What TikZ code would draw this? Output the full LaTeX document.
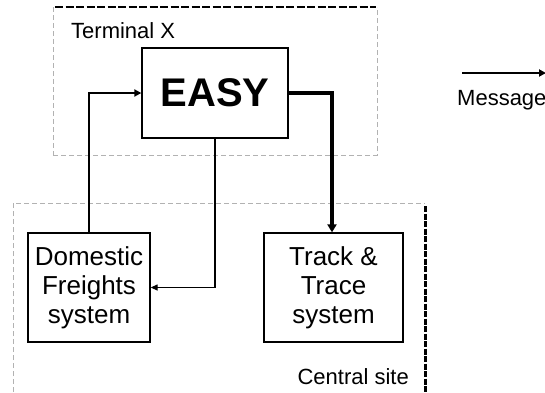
\documentclass[tikz,border=0pt]{standalone}
\usepackage{fontspec}
\setmainfont{Liberation Sans}
\usetikzlibrary{arrows.meta}
\begin{document}
\begin{tikzpicture}[x=1pt,y=-1pt,
  box/.style={draw=black,line width=1.3pt,fill=white,align=center,inner sep=0pt,font=\fontsize{26}{29}\selectfont},
  region/.style={draw=black!30,line width=0.8pt,dash pattern=on 5pt off 3pt},
  bdash/.style={draw=black,line width=2pt,dash pattern=on 8pt off 2.5pt},
  vdash/.style={draw=black,line width=3pt,dash pattern=on 6pt off 1.5pt},
  lbl/.style={font=\fontsize{22}{25}\selectfont,inner sep=0pt},
  msg/.style={-{Triangle[length=7pt,width=7pt]},line width=1.8pt},
  msgthin/.style={-{Triangle[length=7pt,width=6pt]},line width=1.3pt},
  msgthick/.style={-{Triangle[length=8pt,width=9pt]},line width=3.5pt}]
\useasboundingbox (0,0) rectangle (545,392);
% Terminal X region
\draw[region] (53,155) -- (377,155) -- (377,7);
\draw[region] (53,7) -- (53,155);
\draw[bdash] (55,7) -- (376,7);
% Central site region
\draw[region] (13,400) -- (13,203) -- (425,203);
\draw[vdash] (425,206) -- (425,392);
\node[lbl,anchor=west] (terminal) at (71,31) {Terminal X};
\node[lbl,anchor=east] (central) at (409,377) {Central site};
% Nodes
\node[box,minimum width=146pt,minimum height=90pt,font=\fontsize{40}{44}\selectfont\bfseries] (easy) at (215,93) {EASY};
\node[box,minimum width=122pt,minimum height=109pt] (dom) at (89,287.5) {Domestic\\Freights\\system};
\node[box,minimum width=139pt,minimum height=109pt] (track) at (333.5,287.5) {Track \&\\Trace\\system};
% Connectors
\draw[msg] (dom.north) |- (easy.west);
\draw[msgthin] (easy.south) |- (dom.east);
\coordinate (tk) at (332,93);
\draw[msgthick] (easy.east) -- (tk) -- (tk |- track.north);
% Legend
\coordinate (ls) at (462,73);
\coordinate (le) at (546,73);
\draw[msg,line width=2.8pt] (ls) -- (le);
\node[lbl,anchor=west] (message) at (457,100) {Message};
\end{tikzpicture}
\end{document}
